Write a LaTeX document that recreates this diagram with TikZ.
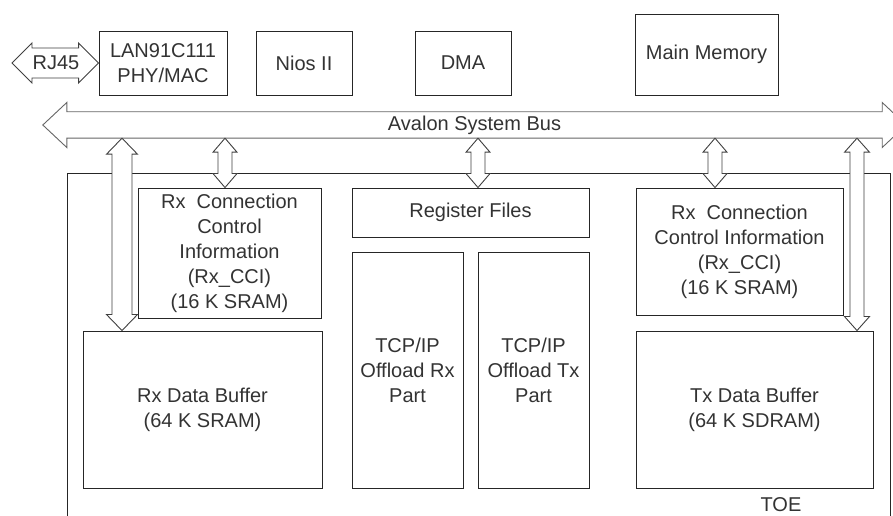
\documentclass[tikz,border=0pt]{standalone}
\usepackage{fontspec}
\setmainfont{Liberation Sans}
\usetikzlibrary{calc}
\tikzset{
  box/.style={draw=black!85, line width=0.9pt, rectangle, inner sep=0pt, align=center,
              text=black!80, font=\fontsize{20}{25}\selectfont},
  fat/.style={draw=black!75, line width=0.9pt, fill=white, line join=miter},
  busline/.style={draw=black!60, line width=0.9pt, fill=white, line join=miter},
  lbl/.style={inner sep=0pt, text=black!80, font=\fontsize{20}{25}\selectfont},
}
% #1 x, #2 upper node, #3 lower node, #4 half shaft, #5 half head, #6 head length
\newcommand\vfat[6]{%
  \draw[fat] let \p1=(#2.south), \p2=(#3.north) in
    (#1pt,\y1) -- (#1pt+#5pt,\y1-#6pt) -- (#1pt+#4pt,\y1-#6pt) -- (#1pt+#4pt,\y2+#6pt)
    -- (#1pt+#5pt,\y2+#6pt) -- (#1pt,\y2) -- (#1pt-#5pt,\y2+#6pt) -- (#1pt-#4pt,\y2+#6pt)
    -- (#1pt-#4pt,\y1-#6pt) -- (#1pt-#5pt,\y1-#6pt) -- cycle;}
\begin{document}
\begin{tikzpicture}[x=1pt,y=1pt]
\path[use as bounding box, clip] (0,0) rectangle (893,516);
\fill[white] (0,0) rectangle (893,516);

% top row
\node[box, minimum width=128pt, minimum height=64pt] (lan) at (163,453) {LAN91C111\\PHY/MAC};
\node[box, minimum width=96pt, minimum height=64pt] (nios) at (304,453) {Nios II};
\node[box, minimum width=96pt, minimum height=64pt] (dma) at (463,453) {DMA};
\node[box, minimum width=143pt, minimum height=81pt] (mem) at (706.5,461.5) {Main Memory};

% RJ45 arrow
\coordinate (rjend) at (12,453);
\draw[fat] let \p1=(rjend), \p2=(lan.west) in
  (\x1,\y1) -- (\x1+20pt,\y1+20pt) -- (\x1+20pt,\y1+15pt) -- (\x2-20pt,\y2+15pt)
  -- (\x2-20pt,\y2+20pt) -- (\x2,\y2) -- (\x2-20pt,\y2-20pt) -- (\x2-20pt,\y2-15pt)
  -- (\x1+20pt,\y1-15pt) -- (\x1+20pt,\y1-20pt) -- cycle;
\node[lbl] (rj) at (56,453) {RJ45};

% system bus
\node[inner sep=0pt, minimum width=815pt, minimum height=26pt] (bus) at (474.5,391) {};
\draw[busline] let \p1=(bus.west), \p2=(bus.east) in
  (\x1-24pt,\y1) -- (\x1,\y1+22.5pt) -- (bus.north west) -- (bus.north east)
  -- (\x2,\y2+22.5pt) -- (\x2+24pt,\y2) -- (\x2,\y2-22.5pt) -- (bus.south east)
  -- (bus.south west) -- (\x1,\y1-22.5pt) -- cycle;
\node[lbl] (buslbl) at (bus.center) {Avalon System Bus};

% TOE container
\draw[draw=black!85, line width=0.9pt] (67,-3) -- (67,343) -- (890,343) -- (890,-3);
\node[lbl] (toe) at (781,11) {TOE};

% inner blocks
\node[box, minimum width=183pt, minimum height=130pt] (rxcci) at (229.5,263)
  {Rx\ \ Connection\\Control\\Information\\(Rx\_CCI)\\(16 K SRAM)};
\node[box, minimum width=237pt, minimum height=49pt] (reg) at (470.5,303.5) {Register Files};
\node[box, minimum width=207pt, minimum height=127pt] (txcci) at (739.5,264.5)
  {Rx\ \ Connection\\Control Information\\(Rx\_CCI)\\(16 K SRAM)};
\node[box, minimum width=239pt, minimum height=157pt] (rxbuf) at (202.5,106.5)
  {Rx Data Buffer\\(64 K SRAM)};
\node[box, minimum width=111pt, minimum height=236pt] (offrx) at (407.5,146)
  {TCP/IP\\Offload Rx\\Part};
\node[box, minimum width=111pt, minimum height=236pt] (offtx) at (533.5,146)
  {TCP/IP\\Offload Tx\\Part};
\node[box, minimum width=237pt, minimum height=157pt] (txbuf) at (754.5,106.5)
  {Tx Data Buffer\\(64 K SDRAM)};

% bus connections
\vfat{122}{bus}{rxbuf}{10}{15.5}{16}
\vfat{225}{bus}{rxcci}{7}{12}{14}
\vfat{478}{bus}{reg}{7}{12}{14}
\vfat{715}{bus}{txcci}{7}{12}{14}
\vfat{857}{bus}{txbuf}{7}{12.5}{14}
\end{tikzpicture}
\end{document}
